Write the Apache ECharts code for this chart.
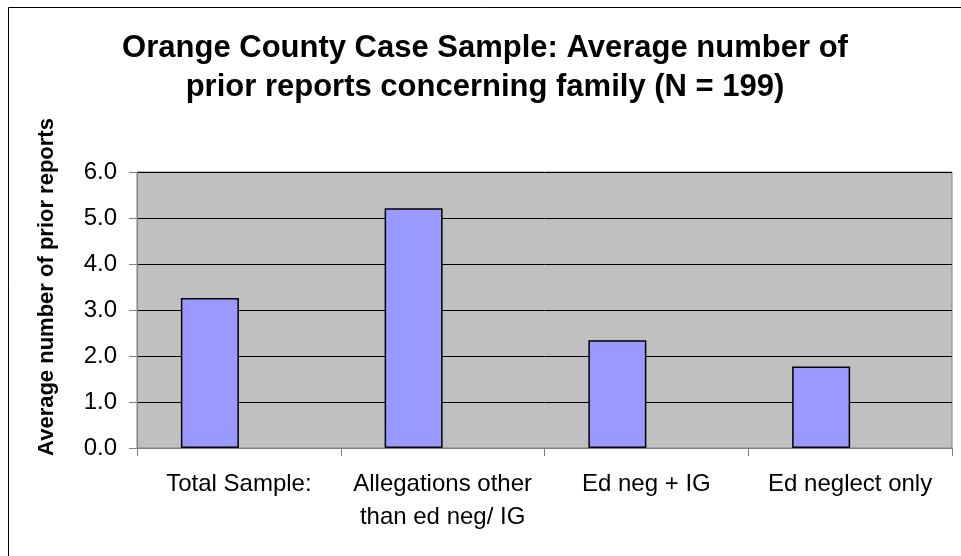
<!DOCTYPE html>
<html>
<head>
<meta charset="utf-8">
<script src="https://cdn.jsdelivr.net/npm/echarts@6/dist/echarts.min.js"></script>
<style>
  html, body { margin: 0; padding: 0; background: #fff; }
  #chart { width: 961px; height: 556px; }
</style>
</head>
<body>
<div id="chart"></div>
<script>
const categories = ['Total Sample:', 'Allegations other\nthan ed neg/ IG', 'Ed neg + IG', 'Ed neglect only']
const avgReports = [3.26, 5.21, 2.34, 1.77]
// second (empty) series slot, as in the original layout
const emptySlot = [null, null, null, null]

const chart = echarts.init(document.getElementById('chart'))
const font = 'Arial, "Liberation Sans", sans-serif'

const option = {
  animation: false,
  backgroundColor: '#fff',
  textStyle: { fontFamily: font },
  title: {
    text: 'Orange County Case Sample: Average number of\nprior reports concerning family (N = 199)',
    left: 480,
    top: 24,
    textAlign: 'center',
    textStyle: {
      fontFamily: font,
      fontSize: 31,
      fontWeight: 'bold',
      color: '#000',
      lineHeight: 39,
    },
  },
  graphic: [
    {
      type: 'rect',
      shape: { x: 8.5, y: 7.5, width: 1000, height: 600 },
      style: { fill: 'none', stroke: '#000', lineWidth: 1 },
      silent: true,
    },
  ],
  grid: {
    left: 137,
    right: 9,
    top: 172,
    bottom: 108,
    show: true,
    backgroundColor: '#C0C0C0',
    borderColor: '#808080',
    borderWidth: 1,
  },
  xAxis: {
    type: 'category',
    data: categories,
    axisLine: { lineStyle: { color: '#808080', width: 1 } },
    axisTick: { show: true, length: 8, lineStyle: { color: '#808080' } },
    axisLabel: {
      color: '#000',
      fontSize: 24,
      fontFamily: font,
      lineHeight: 33,
      margin: 20,
      interval: 0,
    },
  },
  yAxis: {
    type: 'value',
    min: 0,
    max: 6,
    interval: 1,
    name: 'Average number of prior reports',
    nameLocation: 'middle',
    nameGap: 79,
    nameTextStyle: {
      fontFamily: font,
      fontSize: 22,
      fontWeight: 'bold',
      color: '#000',
      padding: [0, 0, 0, 46],
    },
    axisLine: { show: true, lineStyle: { color: '#808080', width: 1 } },
    axisTick: { show: true, length: 8, lineStyle: { color: '#808080' } },
    axisLabel: {
      color: '#000',
      fontSize: 24,
      fontFamily: font,
      margin: 20,
      formatter: (v) => v.toFixed(1),
    },
    splitLine: { lineStyle: { color: '#000', width: 1 } },
  },
  series: [
    {
      type: 'bar',
      data: avgReports,
      barWidth: 58,
      barGap: '0%',
      itemStyle: {
        color: '#9999FF',
        borderColor: '#000',
        borderWidth: 1.5,
      },
    },
    {
      type: 'bar',
      data: emptySlot,
      barWidth: 58,
      barGap: '0%',
    },
  ],
}

chart.setOption(option)
</script>
</body>
</html>
